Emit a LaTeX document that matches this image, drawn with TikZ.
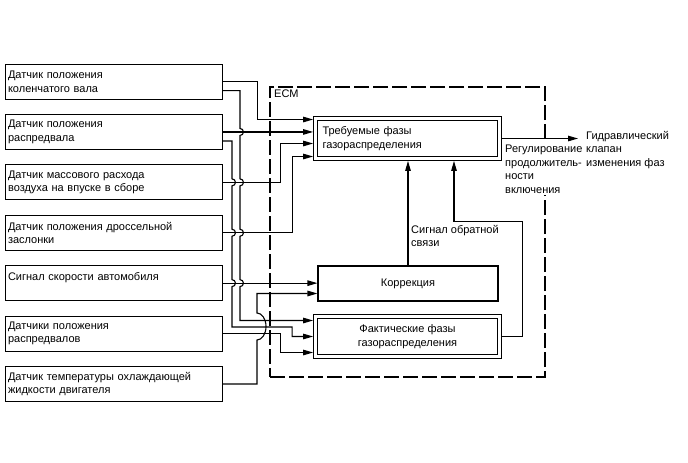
\documentclass[tikz,border=0pt]{standalone}
\usepackage{fontspec}
\setmainfont{Liberation Sans}
\usepackage{tikz}
\usetikzlibrary{positioning,arrows.meta,calc}
% a wire hop: the vertical wire #1 jumps over the horizontal wire at #2
\newcommand{\wirehop}[2]{-- ($(#1 |- #2)+(0,-3.5)$) arc(-90:90:3.5)}

\begin{document}
\begin{tikzpicture}[x=1pt, y=-1pt,
  every node/.style={font=\fontsize{11}{13.5}\selectfont},
  sensor/.style={draw, line width=1.1pt, anchor=north west, minimum width=217pt,
    minimum height=35pt, text width=212pt, inner xsep=2.5pt, align=left},
  dblbox/.style={draw, line width=1.1pt, double, double distance=2.5pt, outer sep=2.4pt,
    minimum width=184pt, minimum height=40pt},
  plainbox/.style={draw, line width=1.1pt, minimum width=180pt, minimum height=35pt},
  wire/.style={line width=1.1pt},
  arr/.style={wire, -{Triangle[length=10pt,width=5.5pt]}},
  ecmframe/.style={draw, line width=1.1pt, dash pattern=on 15pt off 4pt,
    minimum width=275pt, minimum height=290pt},
  note/.style={anchor=north west, align=left, inner sep=2pt}]
  \useasboundingbox (0,0) rectangle (688,463);

  % ECM frame
  \node[ecmframe] (ecm) at (407.5,232) {};
  \node[anchor=west, inner sep=1pt] (ecmlbl) at (273,94) {ECM};

  % sensors
  \node[sensor] (s1) at (5,63.5)  {Датчик положения\\коленчатого вала};
  \node[sensor] (s2) at (5,113.9) {Датчик положения\\распредвала};
  \node[sensor] (s3) at (5,164.3) {Датчик массового расхода\\воздуха на впуске в сборе};
  \node[sensor] (s4) at (5,214.7) {Датчик положения дроссельной\\заслонки};
  \node[sensor] (s5) at (5,265.1) {Сигнал скорости автомобиля\\\mbox{}};
  \node[sensor] (s6) at (5,315.5) {Датчики положения\\распредвалов};
  \node[sensor] (s7) at (5,365.9) {Датчик температуры охлаждающей\\жидкости двигателя};

  % blocks inside the ECM
  \node[dblbox, text width=170pt, inner xsep=7pt, align=left] (req) at (407.5,138.5) {Требуемые фазы\\газораспределения};
  \node[plainbox] (corr) at (408,283.5) {Коррекция};
  \node[dblbox, align=center] (act) at (407.5,336.5) {Фактические фазы\\газораспределения};

  \node[note] (fb) at (409,223) {Сигнал обратной\\связи};
  \node[note] (valve) at (584,129) {Гидравлический\\клапан\\изменения фаз};

  % trunks of the two long wires and of the coolant wire
  \coordinate (ta) at (232,0);
  \coordinate (tb) at (240,0);
  \coordinate (tc) at (257,0);

  \draw[arr] (s1.east) -| ($(req.west)+(-56,-19)$) -- ($(req.west)+(0,-19)$);
  \draw[arr] (s2.east) -- (s2.east -| req.west);
  \draw[arr] (s3.east) -| ($(req.west)+(-33,5)$) -- ($(req.west)+(0,5)$);
  \draw[arr] (s4.east) -| ($(req.west)+(-21,18)$) -- ($(req.west)+(0,18)$);
  \draw[arr] (s5.east) -- (s5.east -| corr.west);
  \draw[arr] (s7.east) -- (s7.east -| tc) -- ($(tc |- act.west)+(0,3.5)$) arc(90:-90:9 and 13.5)
    -- ($(tc |- corr.west)+(0,10)$) -- ($(corr.west)+(0,10)$);
  \draw[arr] (s6.east) -| ($(act.west)+(-33,16)$) -- ($(act.west)+(0,16)$);
  \draw[arr] ($(s1.east)+(0,9)$) -- ($(tb |- s1.east)+(0,9)$)
    \wirehop{tb}{s2.east} \wirehop{tb}{s3.east} \wirehop{tb}{s4.east} \wirehop{tb}{s5.east}
    -- ($(tb |- act.west)+(0,-16)$) -- ($(act.west)+(0,-16)$);
  \draw[arr] ($(s2.east)+(0,9)$) -- ($(ta |- s2.east)+(0,9)$)
    \wirehop{ta}{s3.east} \wirehop{ta}{s4.east} \wirehop{ta}{s5.east}
    -- ($(ta |- act.west)+(0,-9.5)$) -| ($(act.west)+(-21,0)$) -- (act.west);

  % feedback and output
  \draw[arr] (corr.north) -- (corr.north |- req.south);
  \draw[arr] (act.east) -- ++(21,0) |- ($(req.south)+(46.5,61)$) -- ($(req.south)+(46.5,0)$);
  \draw[arr, shorten >=6pt] (req.east) -- (req.east -| valve.west);
  \node[note, fill=white] (duty) at (503,143) {Регулирование\\продолжитель-\\ности\\включения};
\end{tikzpicture}
\end{document}
